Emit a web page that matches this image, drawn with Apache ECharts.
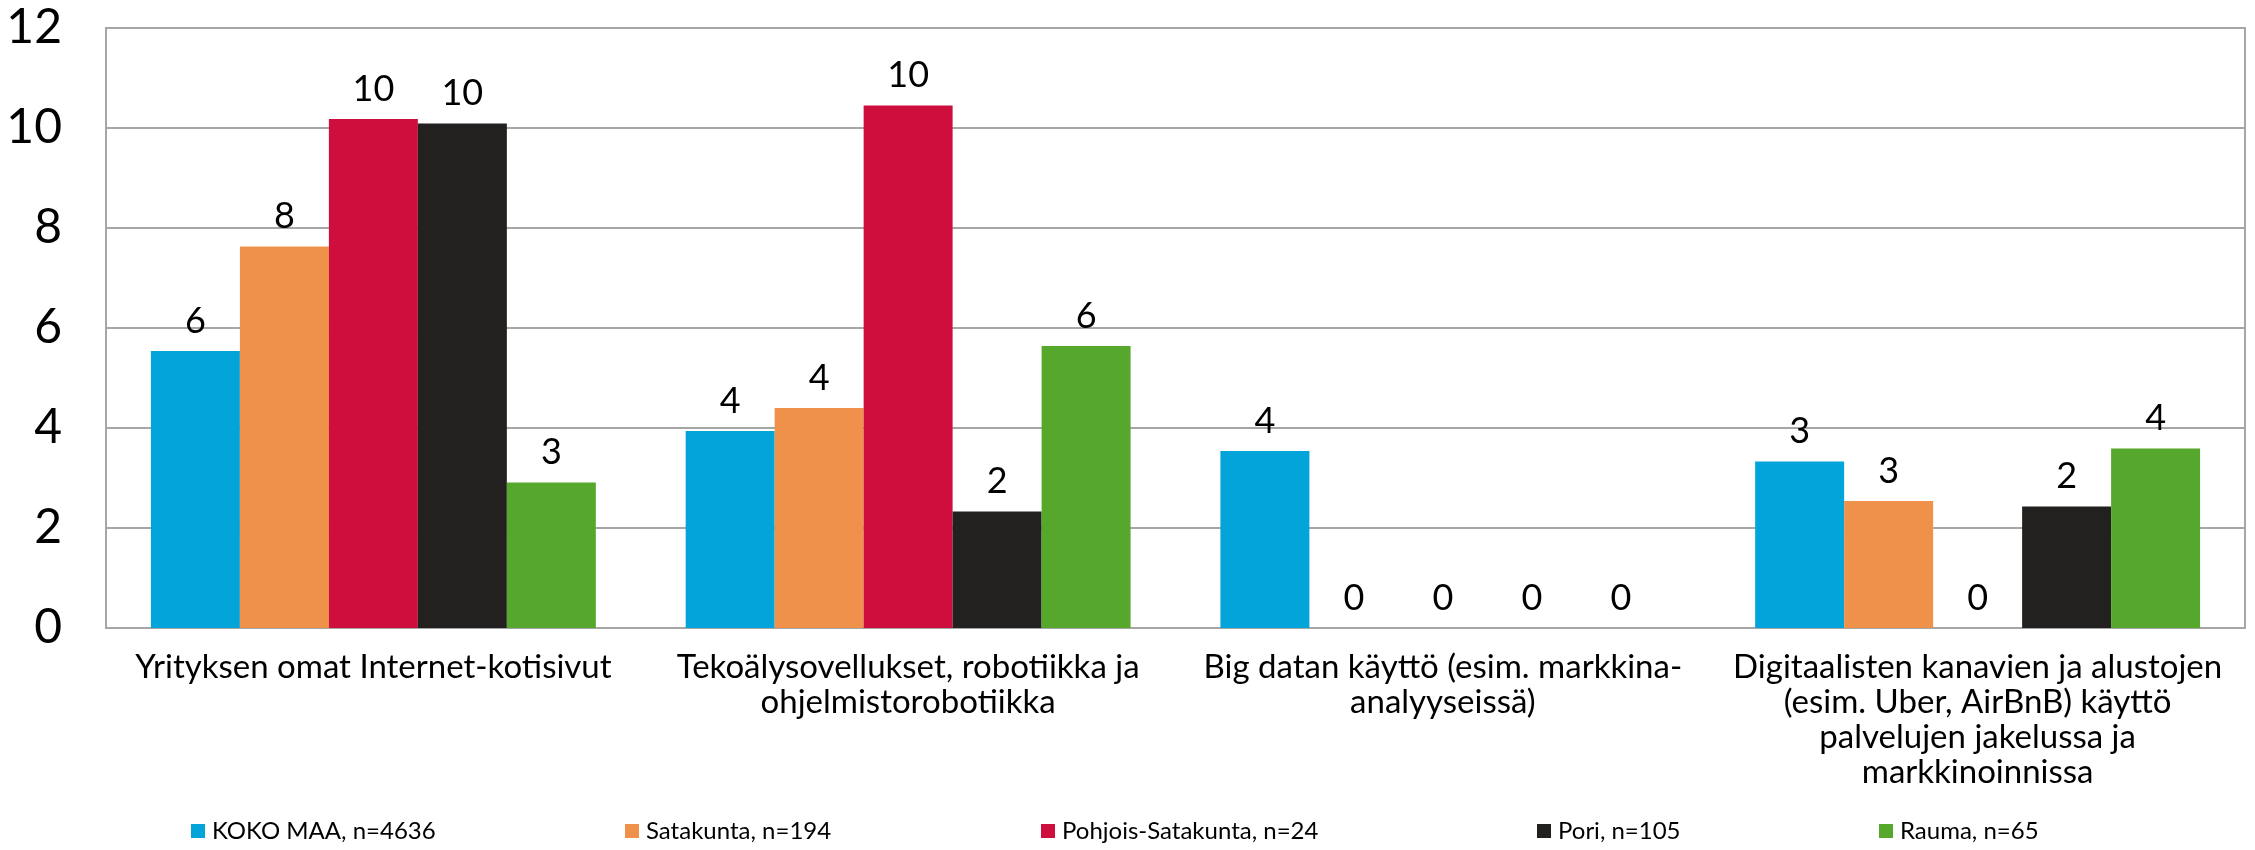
<!DOCTYPE html>
<html>
<head>
<meta charset="utf-8">
<script src="https://cdn.jsdelivr.net/npm/echarts@6/dist/echarts.min.js"></script>
<style>
	html, body { margin: 0; padding: 0; background: #fff; }
	#chart { width: 2255px; height: 850px; }
</style>
</head>
<body>
<div id="chart"></div>
<script>
	// kategoriat (rivinvaihdot kuten alkuperäisessä)
	const categories = [
		'Yrityksen omat Internet-kotisivut',
		'Tekoälysovellukset, robotiikka ja\nohjelmistorobotiikka',
		'Big datan käyttö (esim. markkina-\nanalyyseissä)',
		'Digitaalisten kanavien ja alustojen\n(esim. Uber, AirBnB) käyttö\npalvelujen jakelussa ja\nmarkkinoinnissa'
	];
	const seriesNames = ['KOKO MAA, n=4636', 'Satakunta, n=194', 'Pohjois-Satakunta, n=24', 'Pori, n=105', 'Rauma, n=65'];
	const kokoMaa = [5.54, 3.94, 3.54, 3.33];
	const satakunta = [7.63, 4.40, 0, 2.54];
	const pohjoisSatakunta = [10.18, 10.45, 0, 0];
	const pori = [10.09, 2.33, 0, 2.43];
	const rauma = [2.91, 5.64, 0, 3.59];
	const yTicks = [0, 2, 4, 6, 8, 10, 12];

	const values = [kokoMaa, satakunta, pohjoisSatakunta, pori, rauma];
	const colors = ['#03a4da', '#f0914b', '#ce0f3e', '#222120', '#56a82c'];
	const legendLeft = [191, 625, 1041, 1537, 1879];
	const font = 'Lato';

	const chart = echarts.init(document.getElementById('chart'), null, { renderer: 'canvas' });

	const option = {
		animation: false,
		backgroundColor: '#fff',
		color: colors,
		grid: {
			left: 106,
			right: 10,
			top: 28,
			bottom: 222,
			show: true,
			borderColor: '#a6a6a6',
			borderWidth: 2
		},
		// jokainen selite omassa kohdassaan kuten alkuperäisessä
		legend: seriesNames.map((name, i) => ({
			data: [name],
			left: legendLeft[i],
			top: 819,
			icon: 'rect',
			itemWidth: 14,
			itemHeight: 14,
			itemGap: 0,
			padding: 0,
			textStyle: { fontFamily: font, fontSize: 24, color: '#000', padding: [0, 0, 0, 2] }
		})),
		xAxis: {
			type: 'category',
			data: categories,
			axisTick: { show: false },
			axisLine: { lineStyle: { color: '#a6a6a6', width: 2 } },
			axisLabel: {
				interval: 0,
				margin: 22,
				color: '#000',
				fontFamily: font,
				fontSize: 33,
				lineHeight: 35
			}
		},
		yAxis: {
			type: 'value',
			min: yTicks[0],
			max: yTicks[yTicks.length - 1],
			interval: 2,
			axisLine: { show: true, lineStyle: { color: '#a6a6a6', width: 2 } },
			axisTick: { show: false },
			splitLine: { lineStyle: { color: '#a6a6a6', width: 2 } },
			axisLabel: {
				margin: 44,
				color: '#000',
				fontFamily: font,
				fontSize: 48
			}
		},
		series: seriesNames.map((name, i) => ({
			name: name,
			type: 'bar',
			data: values[i],
			barGap: 0,
			barCategoryGap: '16.8%',
			label: {
				show: true,
				position: 'top',
				distance: 12,
				color: '#000',
				fontFamily: font,
				fontSize: 36,
				formatter: p => Math.round(p.value)
			}
		}))
	};

	chart.setOption(option);
</script>
</body>
</html>
